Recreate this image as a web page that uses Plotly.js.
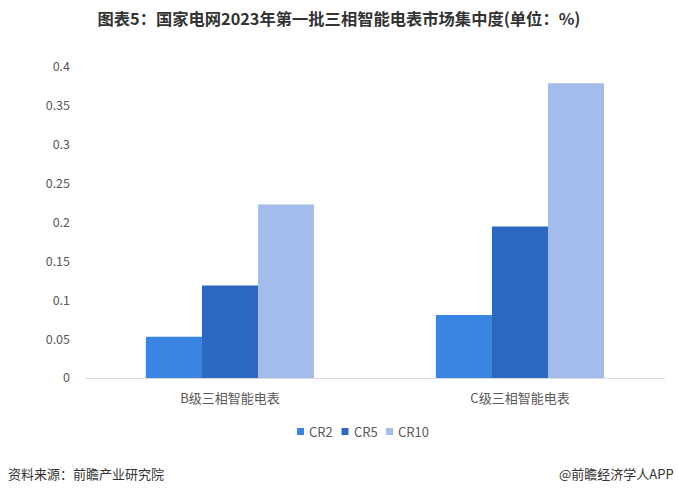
<!DOCTYPE html>
<html>
<head>
<meta charset="utf-8">
<script src="https://cdn.plot.ly/plotly-3.0.1.min.js"></script>
<style>html,body{margin:0;padding:0;background:#fff;}#chart{width:678px;height:494px;}</style>
</head>
<body>
<div id="chart"></div>
<script>
const categories = ["B级三相智能电表", "C级三相智能电表"];
const seriesNames = ["CR2", "CR5", "CR10"];
const cr2 = [0.053, 0.081];
const cr5 = [0.119, 0.195];
const cr10 = [0.223, 0.379];
const yTicks = [0, 0.05, 0.1, 0.15, 0.2, 0.25, 0.3, 0.35, 0.4];
const colors = ["#3A84E2", "#2C68C1", "#A3BCEB"];

const font = '"Microsoft YaHei", "Noto Sans CJK SC", "Noto Sans", sans-serif';
const values = [cr2, cr5, cr10];
const traces = seriesNames.map((n, i) => ({
  type: "bar", name: n, x: categories, y: values[i],
  marker: {color: colors[i]}, hoverinfo: "skip", showlegend: false
}));

// plot area geometry (pixels) for converting legend positions to paper coords
const L = 85, R = 13, T = 67, B = 116, W = 678, H = 494;
const pw = W - L - R, ph = H - T - B;
const px = v => (v - L) / pw;
const py = v => (H - B - v) / ph;

const shapes = [], annotations = [];
const legendStart = 297, legendStep = 44.5, legendY = 431.5, sq = 7;
seriesNames.forEach((n, i) => {
  const x0 = legendStart + i * legendStep;
  shapes.push({type: "rect", xref: "paper", yref: "paper",
    x0: px(x0), x1: px(x0 + sq), y0: py(legendY + sq / 2), y1: py(legendY - sq / 2),
    fillcolor: colors[i], line: {width: 0}});
  annotations.push({text: n, xref: "paper", yref: "paper", x: px(x0 + sq + 3), xanchor: "left",
    y: py(legendY), yanchor: "middle", showarrow: false, font: {size: 13, color: "#595959"}});
});
annotations.push(
  {text: "资料来源：前瞻产业研究院", xref: "paper", yref: "paper", x: px(6), xanchor: "left",
    y: py(473), yanchor: "middle", showarrow: false, font: {size: 13, color: "#333"}},
  {text: "@前瞻经济学人APP", xref: "paper", yref: "paper", x: px(676), xanchor: "right",
    y: py(473), yanchor: "middle", showarrow: false, font: {size: 13, color: "#333"}}
);

const layout = {
  width: W, height: H,
  margin: {l: L, r: R, t: T, b: B},
  paper_bgcolor: "#fff", plot_bgcolor: "#fff",
  font: {family: font, color: "#595959", size: 12},
  title: {text: "<b>图表5：国家电网2023年第一批三相智能电表市场集中度(单位：%)</b>",
    font: {family: font, size: 16.3, color: "#333333"}, x: 0.5, xanchor: "center", y: 0.96, yanchor: "middle"},
  barmode: "group", bargap: 0.42, bargroupgap: 0,
  xaxis: {showline: true, linecolor: "#d9d9d9", linewidth: 1, ticks: "", showgrid: false,
    ticklabelstandoff: 8, tickfont: {size: 13, color: "#595959"}, fixedrange: true},
  yaxis: {range: [0, 0.4], tickvals: yTicks, showgrid: false, zeroline: false, showline: false,
    ticks: "", ticklabelstandoff: 14, tickfont: {size: 12.5, color: "#595959"}, fixedrange: true},
  showlegend: false,
  shapes: shapes,
  annotations: annotations
};
Plotly.newPlot("chart", traces, layout, {displayModeBar: false, staticPlot: true});
</script>
</body>
</html>
